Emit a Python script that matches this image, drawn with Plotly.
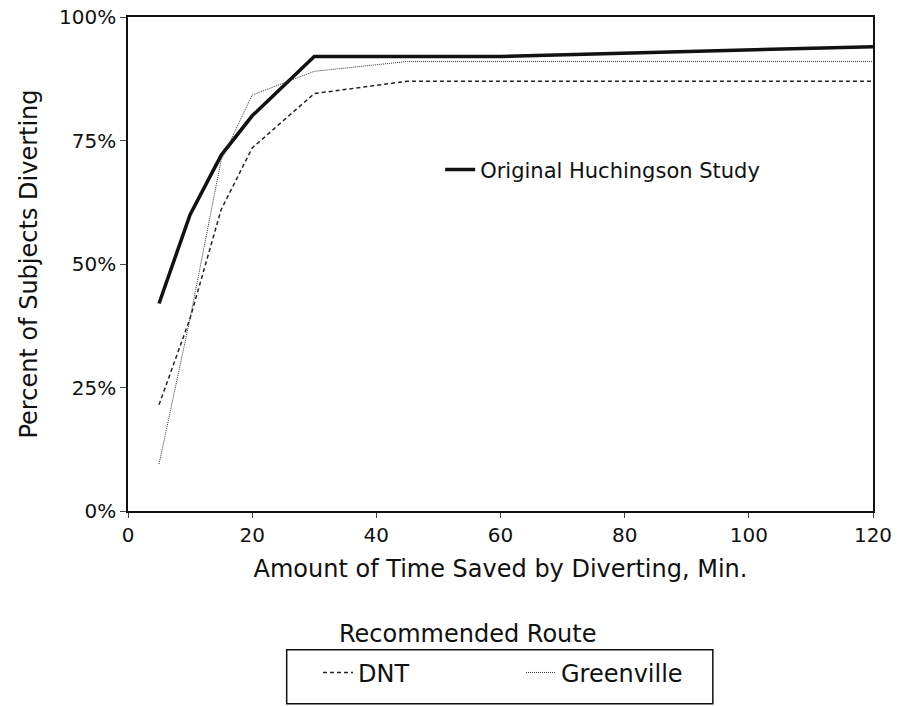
import plotly.graph_objects as go

minutes = [5, 10, 15, 20, 30, 45, 60, 75, 90, 105, 120]
huchingson = [0.42, 0.60, 0.72, 0.80, 0.92, 0.92, 0.92, 0.925, 0.93, 0.935, 0.94]
dnt = [0.215, 0.39, 0.61, 0.735, 0.845, 0.87, 0.87, 0.87, 0.87, 0.87, 0.87]
greenville = [0.095, 0.39, 0.71, 0.842, 0.89, 0.91, 0.91, 0.91, 0.91, 0.91, 0.91]

y_ticks = [0, 0.25, 0.5, 0.75, 1.0]
x_ticks = [0, 20, 40, 60, 80, 100, 120]

FONT = "DejaVu Sans, Arial, sans-serif"

fig = go.Figure()
fig.add_trace(go.Scatter(x=minutes, y=huchingson, mode="lines", name="Original Huchingson Study",
                         line=dict(color="#111", width=3.5), legend="legend"))
fig.add_trace(go.Scatter(x=minutes, y=dnt, mode="lines", name="DNT",
                         line=dict(color="#222", width=1.5, dash="4px,3px"), legend="legend2"))
fig.add_trace(go.Scatter(x=minutes, y=greenville, mode="lines", name="Greenville",
                         line=dict(color="#333", width=1, dash="1px,1px"), legend="legend2"))

fig.update_layout(
    width=897, height=706,
    margin=dict(l=128, r=24, t=17, b=194),
    paper_bgcolor="white", plot_bgcolor="white",
    font=dict(family=FONT, size=20, color="#111"),
    legend=dict(x=0.419, y=0.691, xanchor="left", yanchor="middle",
                bgcolor="rgba(0,0,0,0)", font=dict(size=21)),
    legend2=dict(orientation="h", x=0.255, y=-0.325, xanchor="left", yanchor="middle",
                 bgcolor="rgba(0,0,0,0)", font=dict(size=24), entrywidth=158),
    showlegend=True,
)
fig.update_xaxes(range=[0, 120], tickvals=x_ticks, ticks="outside", ticklen=5, automargin=False,
                 showline=True, linecolor="#111", linewidth=1.5, mirror=True,
                 showgrid=False, zeroline=False,
                 title=dict(text="Amount of Time Saved by Diverting, Min.", font=dict(size=24), standoff=14))
fig.update_yaxes(range=[0, 1], tickvals=y_ticks, tickformat=".0%", ticks="outside", ticklen=6, automargin=False,
                 showline=True, linecolor="#111", linewidth=1.5, mirror=True,
                 showgrid=False, zeroline=False,
                 title=dict(text="Percent of Subjects Diverting", font=dict(size=24), standoff=15))

fig.add_annotation(text="Recommended Route", xref="paper", yref="paper", x=0.456, y=-0.248,
                   showarrow=False, font=dict(size=24), xanchor="center", yanchor="middle")
fig.add_shape(type="rect", xref="paper", yref="paper", x0=0.213, x1=0.785, y0=-0.281, y1=-0.390,
              line=dict(color="#111", width=1.5))

fig.write_html("out.html", config={"displayModeBar": False},
               post_script="document.body.style.margin='0';document.body.style.overflow='hidden';")
